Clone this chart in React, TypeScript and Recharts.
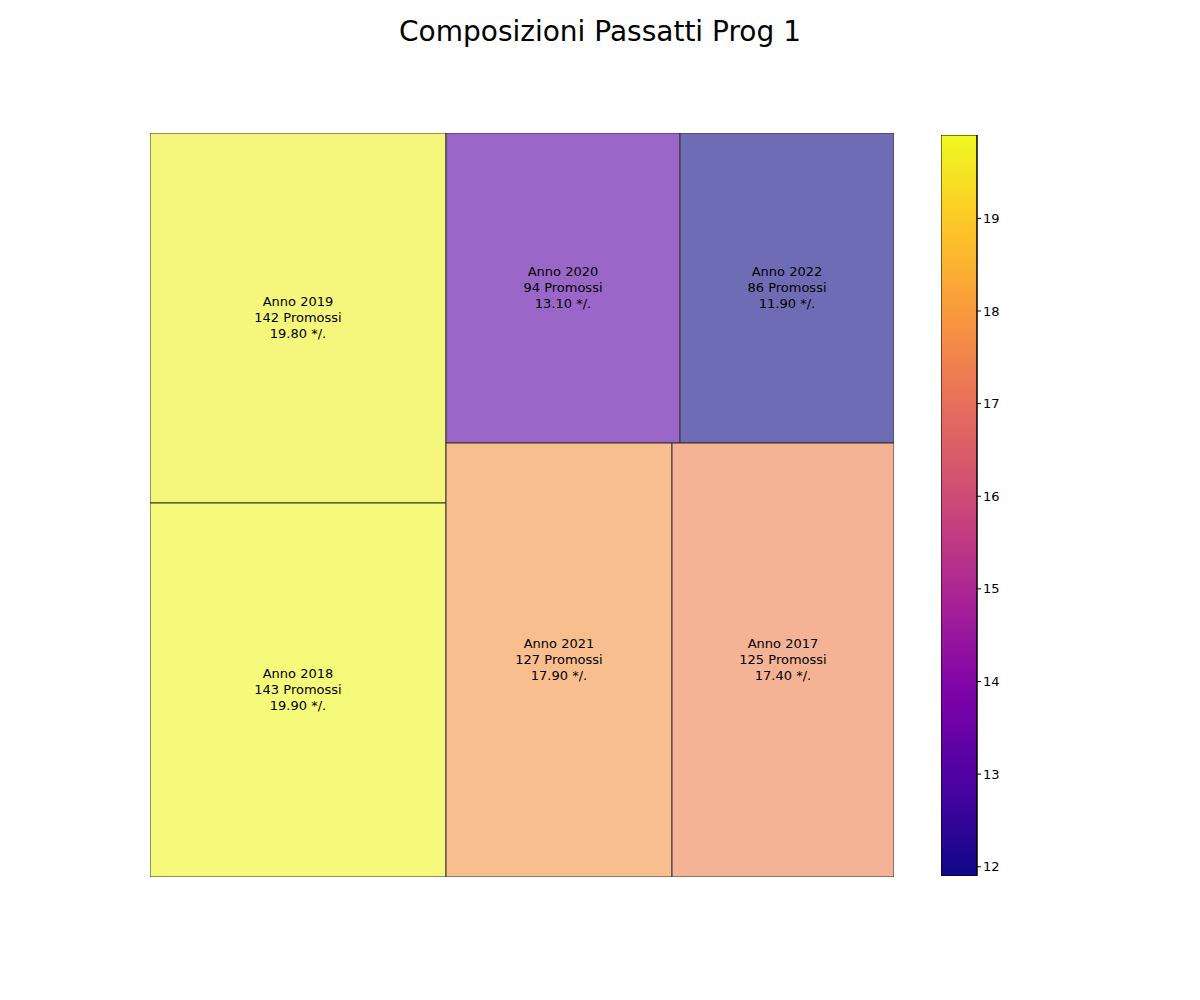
import React from 'react'
import { Treemap, BarChart, Bar, XAxis, YAxis } from 'recharts'

const anni = ['2019', '2018', '2020', '2022', '2021', '2017']
const promossi = [142, 143, 94, 86, 127, 125]
const percentuali = [19.8, 19.9, 13.1, 11.9, 17.9, 17.4]
const colori = ['#f5f77d', '#f5fa7a', '#9a67c8', '#6f6cb6', '#f9be8e', '#f5b396']
const ticksBarra = [12, 13, 14, 15, 16, 17, 18, 19]

const dati = anni.map((a, i) => ({
  name: `Anno ${a}`,
  size: promossi[i],
  pct: percentuali[i],
  fill: colori[i],
}))

const FONT = 'DejaVu Sans, sans-serif'

// il layout di recharts è trasposto rispetto a squarify: scambio x/y
function Cella(props: any) {
  const { x: y, y: x, width: height, height: width, depth, name, size, pct, fill } = props
  if (depth !== 1) return null
  const cx = x + width / 2
  const cy = y + height / 2
  return (
    <g>
      <rect x={x} y={y} width={width} height={height} fill={fill} stroke="#333" strokeWidth={1} />
      <text x={cx} y={cy - 16} textAnchor="middle" dominantBaseline="middle" fontSize={13} fontFamily={FONT} fill="#000">{name}</text>
      <text x={cx} y={cy} textAnchor="middle" dominantBaseline="middle" fontSize={13} fontFamily={FONT} fill="#000">{`${size} Promossi`}</text>
      <text x={cx} y={cy + 16} textAnchor="middle" dominantBaseline="middle" fontSize={13} fontFamily={FONT} fill="#000">{`${pct.toFixed(2)} */.`}</text>
    </g>
  )
}

export default function App() {
  return (
    <div style={{ position: 'absolute', left: 0, top: 0, width: 1200, height: 1000, background: '#fff', fontFamily: FONT }}>
      <div style={{ position: 'absolute', top: 15, width: 1200, textAlign: 'center', fontSize: 28 }}>
        Composizioni Passatti Prog 1
      </div>
      <div style={{ position: 'absolute', left: 150, top: 133 }}>
        <Treemap
          width={744}
          height={744}
          data={dati}
          dataKey="size"
          aspectRatio={1}
          content={<Cella />}
          isAnimationActive={false}
        />
      </div>
      <div style={{ position: 'absolute', left: 941, top: 135 }}>
        <BarChart width={110} height={741} data={[{ v: [11.9, 19.9] }]} margin={{ top: 0, right: 0, bottom: 0, left: 0 }} barCategoryGap={0}>
          <defs>
            <linearGradient id="plasma" x1="0" y1="1" x2="0" y2="0">
              <stop offset="0%" stopColor="#0d0887" />
              <stop offset="12.5%" stopColor="#4c02a1" />
              <stop offset="25%" stopColor="#7e03a8" />
              <stop offset="37.5%" stopColor="#a92395" />
              <stop offset="50%" stopColor="#cc4778" />
              <stop offset="62.5%" stopColor="#e56b5d" />
              <stop offset="75%" stopColor="#f89540" />
              <stop offset="87.5%" stopColor="#fdc527" />
              <stop offset="100%" stopColor="#f0f921" />
            </linearGradient>
          </defs>
          <XAxis hide />
          <YAxis
            orientation="right"
            width={74}
            type="number"
            domain={[11.9, 19.9]}
            ticks={ticksBarra}
            interval={0}
            stroke="#000"
            tickSize={4}
            tick={{ fill: '#000', fontSize: 13, fontFamily: FONT }}
          />
          <Bar dataKey="v" fill="url(#plasma)" stroke="#000" strokeWidth={1} isAnimationActive={false} />
        </BarChart>
      </div>
    </div>
  )
}
